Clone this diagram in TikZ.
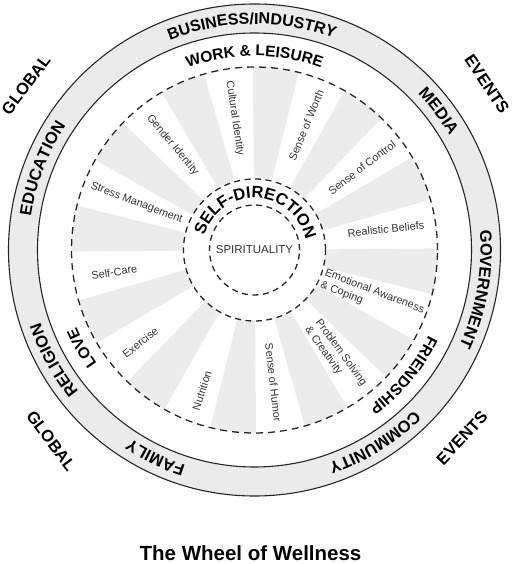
\documentclass[tikz,border=0pt]{standalone}
\usepackage{fontspec}
\setmainfont{Liberation Sans}
\usetikzlibrary{decorations.text}
\definecolor{bandgray}{HTML}{EBEBEB}
\definecolor{wedgegray}{HTML}{ECECEC}
\definecolor{inkline}{HTML}{262626}
\definecolor{labelink}{HTML}{333333}
\begin{document}
\begin{tikzpicture}[x=1pt,y=1pt,
  bandline/.style={draw=inkline, line width=1.1pt},
  dashline/.style={draw=inkline, line width=1.3pt, dash pattern=on 7pt off 5pt},
  innerdash/.style={draw=inkline, line width=1.3pt, dash pattern=on 6pt off 4.5pt},
  wlabel/.style={font=\fontsize{10.9}{13}\selectfont, text=labelink, inner sep=0pt},
  outlabel/.style={font=\fontsize{16.5}{18}\selectfont\bfseries, inner sep=0pt},
  arctext/.style={decorate, decoration={text along path, text align=center, text={#1}}}
]
\useasboundingbox (-254.5,-314) rectangle (257.5,250);
% band
\fill[bandgray, even odd rule] (0,0) circle[radius=246] (0,0) circle[radius=217];
\draw[bandline] (0,0) circle[radius=246];
\draw[bandline] (0,0) circle[radius=217];
% wedges
\foreach \k in {0,...,11} {
  \pgfmathsetmacro\wa{106-30*\k}
  \pgfmathsetmacro\wb{120.5-30*\k}
  \fill[wedgegray] (\wa:71) arc[start angle=\wa, end angle=\wb, radius=71]
    -- (\wb:183) arc[start angle=\wb, end angle=\wa, radius=183] -- cycle;
}
% dashed circles
\draw[dashline] (0,0) circle[radius=183];
\draw[innerdash] (0,0) circle[radius=71];
\draw[innerdash] (0,0) circle[radius=45];
% band texts
\path[arctext={|\fontsize{16}{18}\selectfont\bfseries|BUSINESS/INDUSTRY}] (130.7:226) arc[start angle=130.7, end angle=50.7, radius=226];
\path[arctext={|\fontsize{16.5}{18}\selectfont\bfseries|MEDIA}] (67:226) arc[start angle=67, end angle=7, radius=226];
\path[arctext={|\fontsize{16.5}{18}\selectfont\bfseries|GOVERNMENT}] (30:226) arc[start angle=30, end angle=-50, radius=226];
\path[arctext={|\fontsize{16.5}{18}\selectfont\bfseries|COMMUNITY}] (-18:226) arc[start angle=-18, end angle=-98, radius=226];
\path[arctext={|\fontsize{16.5}{18}\selectfont\bfseries|FAMILY}] (-85.5:226) arc[start angle=-85.5, end angle=-145.5, radius=226];
\path[arctext={|\fontsize{16.5}{18}\selectfont\bfseries|RELIGION}] (243.8:226) arc[start angle=243.8, end angle=173.8, radius=226];
\path[arctext={|\fontsize{16.5}{18}\selectfont\bfseries|EDUCATION}] (194:226) arc[start angle=194, end angle=124, radius=226];
% ring texts
\path[arctext={|\fontsize{15.5}{18}\selectfont\bfseries|WORK {\&} LEISURE}] (125:194) arc[start angle=125, end angle=55, radius=194];
\path[arctext={|\fontsize{15.5}{18}\selectfont\bfseries|FRIENDSHIP}] (-10:194) arc[start angle=-10, end angle=-70, radius=194];
\path[arctext={|\fontsize{15.5}{18}\selectfont\bfseries|LOVE}] (234.5:194) arc[start angle=234.5, end angle=184.5, radius=194];
% self-direction
\path[arctext={|\fontsize{16.5}{18}\selectfont\bfseries|SELF-DIRECTION}] (173:52) arc[start angle=173, end angle=3, radius=52];
\node[font=\fontsize{11.5}{13}\selectfont, text=labelink, inner sep=0pt] (spirit) at (0,0) {SPIRITUALITY};
% wedge labels
\node[wlabel, rotate=-81.5] (cult) at (98.5:133) {Cultural Identity};
\node[wlabel, rotate=67.5] (worth) at (67.5:135) {Sense of Worth};
\node[wlabel, rotate=37.5] (control) at (37.5:135.5) {Sense of Control};
\node[wlabel, rotate=6] (beliefs) at (9:133) {Realistic Beliefs};
\node[wlabel, rotate=-21, align=left] (emo) at (-22:127) {Emotional Awareness\\\& Coping};
\node[wlabel, rotate=-54, align=left] (prob) at (-52.7:134) {Problem Solving\\\& Creativity};
\node[wlabel, rotate=-83.6] (humor) at (-81.9:134) {Sense of Humor};
\node[wlabel, rotate=72] (nutr) at (-110.5:150) {Nutrition};
\node[wlabel, rotate=38.5] (exer) at (-141:147) {Exercise};
\node[wlabel, rotate=9] (selfcare) at (189:142) {Self-Care};
\node[wlabel, rotate=-21] (stress) at (158.3:127) {Stress Management};
\node[wlabel, rotate=-50] (gender) at (128:133) {Gender Identity};
% outer labels
\node[outlabel, rotate=53] (globtl) at (-228.5,165) {GLOBAL};
\node[outlabel, rotate=-56] (evtr) at (232.5,166) {EVENTS};
\node[outlabel, rotate=-53] (globbl) at (-203.5,-191) {GLOBAL};
\node[outlabel, rotate=47] (evbr) at (207.5,-188) {EVENTS};
% title
\node[font=\fontsize{20.5}{24}\selectfont\bfseries, anchor=base, inner sep=0pt] (title) at (-4,-310) {The Wheel of Wellness};
\end{tikzpicture}
\end{document}
